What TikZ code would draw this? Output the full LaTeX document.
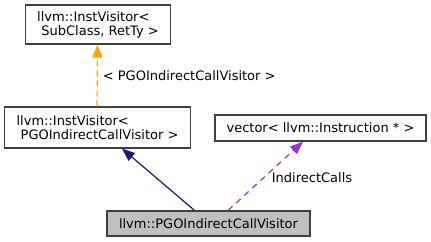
\documentclass[tikz,border=0pt]{standalone}
\usepackage{fontspec}
\setmainfont{DejaVu Sans}
\usetikzlibrary{arrows.meta}
\definecolor{boxline}{HTML}{404040}
\definecolor{inherit}{HTML}{191970}
\definecolor{templ}{HTML}{FFA500}
\definecolor{usage}{HTML}{9A32CD}
\definecolor{current}{HTML}{BFBFBF}
\tikzset{
  cls/.style={draw=boxline, line width=1.2pt, fill=white, inner ysep=0pt,
    font=\fontsize{13}{14}\selectfont},
  multi/.style={cls, align=left, inner xsep=12pt, minimum width=#1},
  single/.style={cls, minimum width=#1, minimum height=25pt, inner xsep=0pt},
  lbl/.style={font=\fontsize{13}{14}\selectfont, inner sep=0pt},
  head/.style={-{Triangle[length=13pt,width=10pt]}, line width=1.2pt},
}
\begin{document}
\begin{tikzpicture}[x=1pt, y=-1pt]
\useasboundingbox (0,0) rectangle (431,241);

% class boxes
\node[multi=144pt, minimum height=39pt] (tmpl) at (98,24.5)
  {llvm::InstVisitor\textless\\\ SubClass, RetTy \textgreater};
\node[multi=185pt, minimum height=41pt] (inst) at (97.5,127.5)
  {llvm::InstVisitor\textless\\\ PGOIndirectCallVisitor \textgreater};
\node[single=211pt, minimum height=26pt] (vec) at (320.5,128)
  {vector\textless\ llvm::Instruction * \textgreater};
\node[single=203pt, fill=current] (main) at (208.5,223.5)
  {llvm::PGOIndirectCallVisitor};

% relations
\draw[head, templ, dashed, dash pattern=on 6pt off 4pt]
  ([xshift=-0.5pt]inst.north) -- ([xshift=-0.5pt]tmpl.south)
  node[lbl, pos=0.5, anchor=west, xshift=5pt, text=black]
  {\textless\ PGOIndirectCallVisitor \textgreater};
\draw[head, inherit] ([xshift=-14pt]main.north) -- ([xshift=24.5pt]inst.south);
\draw[head, usage, dashed, dash pattern=on 6pt off 5pt]
  ([xshift=19.5pt]main.north) -- ([xshift=-17.5pt]vec.south)
  node[lbl, pos=0.47, anchor=west, xshift=8pt, text=black] {IndirectCalls};
\end{tikzpicture}
\end{document}
